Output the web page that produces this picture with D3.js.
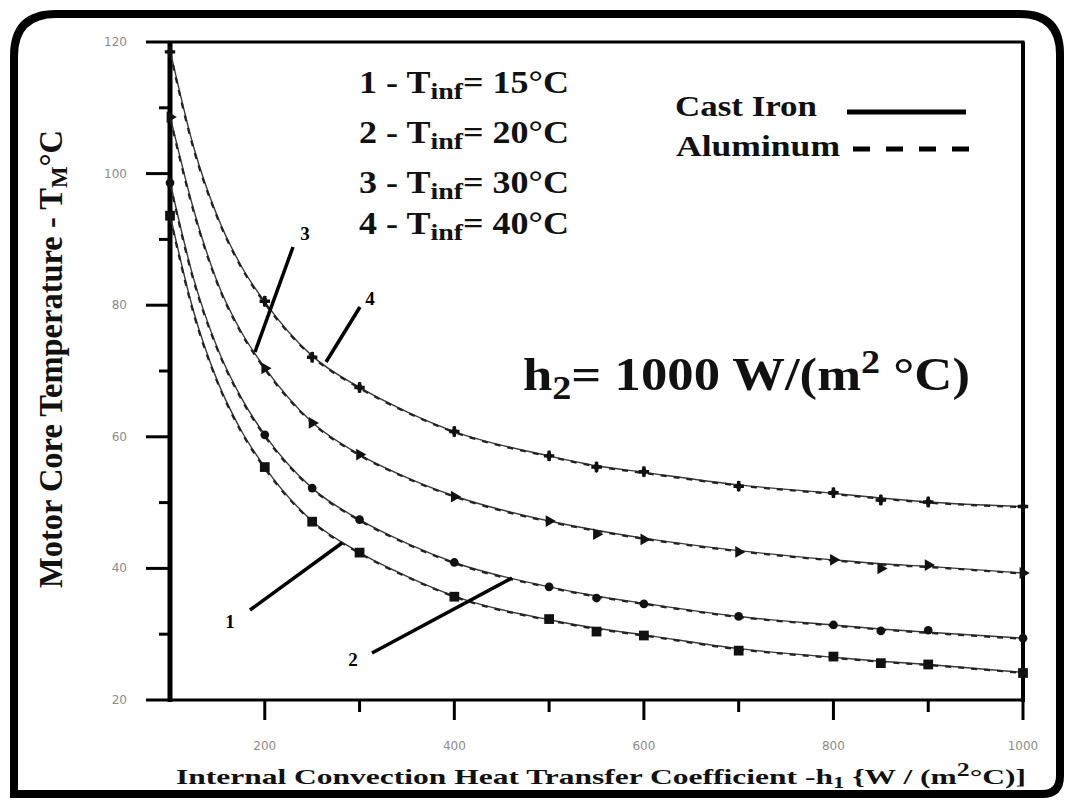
<!DOCTYPE html>
<html><head><meta charset="utf-8">
<script src="https://cdn.jsdelivr.net/npm/d3@7"></script>
<style>body{margin:0;background:#fff}svg{display:block}</style></head>
<body>
<svg id="chart" width="1072" height="804"></svg>
<script>
// ---------- data ----------
const hValues = [100, 125, 150, 175, 200, 250, 300, 350, 400, 500, 550, 600, 700, 800, 850, 900, 1000];
const castIron_T15 = [93.8, 79, 68.5, 61, 55.4, 47.2, 42.4, 38.8, 35.8, 32.2, 30.9, 29.9, 27.8, 26.5, 25.9, 25.4, 24.2];
const castIron_T20 = [98.8, 84, 73.5, 66, 60.3, 52.2, 47.4, 43.8, 40.9, 37.2, 35.8, 34.7, 32.7, 31.4, 30.8, 30.3, 29.4];
const castIron_T30 = [108.8, 94.5, 83.5, 76, 70.5, 62.2, 57.3, 53.8, 51.0, 47.2, 45.8, 44.6, 42.7, 41.3, 40.7, 40.3, 39.3];
const castIron_T40 = [118.8, 104, 93.5, 86, 80.5, 72.3, 67.5, 63.8, 60.8, 57.1, 55.6, 54.6, 52.7, 51.4, 50.7, 50.1, 49.4];
const aluminum_T15 = [93.5, 78.7, 68.3, 60.8, 55.2, 47.1, 42.3, 38.7, 35.7, 32.1, 30.8, 29.8, 27.7, 26.4, 25.8, 25.3, 24.1];
const aluminum_T20 = [98.5, 83.7, 73.3, 65.8, 60.1, 52.1, 47.3, 43.7, 40.8, 37.1, 35.7, 34.6, 32.6, 31.3, 30.7, 30.2, 29.3];
const aluminum_T30 = [108.5, 94.2, 83.3, 75.8, 70.3, 62.1, 57.2, 53.7, 50.9, 47.1, 45.7, 44.5, 42.6, 41.2, 40.6, 40.2, 39.2];
const aluminum_T40 = [118.5, 103.7, 93.3, 85.8, 80.3, 72.2, 67.4, 63.7, 60.7, 57.0, 55.5, 54.5, 52.6, 51.3, 50.6, 50.0, 49.3];

const markerH = [100, 200, 250, 300, 400, 500, 550, 600, 700, 800, 850, 900, 1000];
const marker_T15 = [93.6, 55.4, 47.1, 42.4, 35.7, 32.3, 30.4, 29.8, 27.5, 26.6, 25.6, 25.4, 24.1];
const marker_T20 = [98.6, 60.3, 52.2, 47.4, 40.9, 37.2, 35.5, 34.6, 32.7, 31.4, 30.5, 30.6, 29.4];
const marker_T30 = [108.6, 70.4, 62.1, 57.3, 50.9, 47.2, 45.2, 44.4, 42.5, 41.3, 40.0, 40.5, 39.3];
const marker_T40 = [118.5, 80.6, 72.1, 67.5, 60.8, 57.1, 55.4, 54.7, 52.5, 51.5, 50.4, 50.1, 49.4];

const curveNumbers = ["1", "2", "3", "4"];
const tinfLabels = ["15", "20", "30", "40"];
const markerShapes = ["square", "circle", "triangle", "star"];

const xMajorTicks = [200, 400, 600, 800, 1000];
const xMinorTicks = [300, 500, 700, 900];
const yMajorTicks = [20, 40, 60, 80, 100, 120];
const yMinorTicks = [30, 50, 70, 90, 110];

// ---------- setup ----------
const svg = d3.select("#chart");
const serif = "'Liberation Serif','Times New Roman',serif";
const L = 170, R = 1023, T = 42, B = 700;
const x = d3.scaleLinear().domain([100, 1000]).range([L, R]);
const y = d3.scaleLinear().domain([20, 120]).range([B, T]);

svg.append("rect").attr("width", 1072).attr("height", 804).attr("fill", "#fff");

// outer rounded frame
const fr = {x0: 14, y0: 14, x1: 1060, y1: 794};
svg.append("path")
  .attr("d", `M${fr.x0},${fr.y1} L${fr.x0},${fr.y0 + 42} Q${fr.x0},${fr.y0} ${fr.x0 + 42},${fr.y0} L${fr.x1 - 40},${fr.y0} Q${fr.x1},${fr.y0} ${fr.x1},${fr.y0 + 40} L${fr.x1},${fr.y1 - 18} Q${fr.x1},${fr.y1} ${fr.x1 - 18},${fr.y1} Z`)
  .attr("fill", "none").attr("stroke", "#000").attr("stroke-width", 8);

// plot frame
svg.append("rect").attr("x", L).attr("y", T).attr("width", R - L).attr("height", B - T)
  .attr("fill", "none").attr("stroke", "#000").attr("stroke-width", 3);
svg.append("line").attr("x1", L).attr("x2", L).attr("y1", T).attr("y2", B + 2).attr("stroke", "#000").attr("stroke-width", 5);
svg.append("line").attr("x1", R).attr("x2", R).attr("y1", T).attr("y2", B + 2).attr("stroke", "#000").attr("stroke-width", 4);

// curves
const castSeries = [castIron_T15, castIron_T20, castIron_T30, castIron_T40];
const aluSeries = [aluminum_T15, aluminum_T20, aluminum_T30, aluminum_T40];
const markerSeries = [marker_T15, marker_T20, marker_T30, marker_T40];
const line = d3.line().x(d => x(d[0])).y(d => y(d[1])).curve(d3.curveMonotoneX);
const plot = svg.append("g");
castSeries.forEach((s, i) => {
  plot.append("path").attr("d", line(hValues.map((h, j) => [h, s[j]])))
    .attr("fill", "none").attr("stroke", "#3a3a3a").attr("stroke-width", 1.4);
});
aluSeries.forEach((s, i) => {
  plot.append("path").attr("d", line(hValues.map((h, j) => [h, s[j]])))
    .attr("fill", "none").attr("stroke", "#222").attr("stroke-width", 2.2).attr("stroke-dasharray", "6,7");
});
const symbolFor = {
  square: d3.symbol().type(d3.symbolSquare).size(95),
  circle: d3.symbol().type(d3.symbolCircle).size(60),
  triangle: d3.symbol().type(d3.symbolTriangle).size(60),
  star: d3.symbol().type(d3.symbolCross).size(60)
};
markerSeries.forEach((s, i) => {
  const shape = markerShapes[i];
  plot.selectAll(null).data(markerH.map((h, j) => [h, s[j]])).enter().append("path")
    .attr("d", symbolFor[shape]())
    .attr("transform", d => `translate(${x(d[0])},${y(d[1])})` + (shape === "triangle" ? " rotate(90)" : ""))
    .attr("fill", "#111");
  if (shape === "star") {
    plot.selectAll(null).data(markerH.map((h, j) => [h, s[j]])).enter().append("path")
      .attr("d", d3.symbol().type(d3.symbolDiamond).size(40)())
      .attr("transform", d => `translate(${x(d[0])},${y(d[1])})`)
      .attr("fill", "#111");
  }
});

// axes ticks (drawn last, from the scales)
const tickCol = "#8c8c8c";
const axes = svg.append("g").attr("class", "ticks");
xMajorTicks.forEach(d => {
  axes.append("line").attr("x1", x(d)).attr("x2", x(d)).attr("y1", B + 1).attr("y2", B + 20)
    .attr("stroke", "#000").attr("stroke-width", 3);
  axes.append("text").attr("x", x(d)).attr("y", B + 50).attr("text-anchor", "middle")
    .attr("fill", tickCol).attr("font-family", "'DejaVu Sans',sans-serif").attr("font-size", 12).text(d);
});
xMinorTicks.forEach(d => {
  axes.append("line").attr("x1", x(d)).attr("x2", x(d)).attr("y1", B + 1).attr("y2", B + 12)
    .attr("stroke", "#000").attr("stroke-width", 3);
});
yMajorTicks.forEach(d => {
  axes.append("line").attr("x1", L - 24).attr("x2", L - 1).attr("y1", y(d)).attr("y2", y(d))
    .attr("stroke", "#000").attr("stroke-width", 3);
  axes.append("text").attr("x", L - 43).attr("y", y(d) + 4).attr("text-anchor", "end")
    .attr("fill", tickCol).attr("font-family", "'DejaVu Sans',sans-serif").attr("font-size", 12).text(d);
});
yMinorTicks.forEach(d => {
  axes.append("line").attr("x1", L - 11).attr("x2", L - 1).attr("y1", y(d)).attr("y2", y(d))
    .attr("stroke", "#000").attr("stroke-width", 3);
});

// curve number annotations
const annoLines = [
  {n: "1", x1: 250, y1: 610, x2: 342, y2: 543, tx: 230, ty: 628},
  {n: "2", x1: 372, y1: 653, x2: 512, y2: 578, tx: 353, ty: 666},
  {n: "3", x1: 293, y1: 247, x2: 255, y2: 352, tx: 305, ty: 240},
  {n: "4", x1: 360, y1: 307, x2: 326, y2: 362, tx: 370, ty: 305}
];
annoLines.forEach(a => {
  svg.append("line").attr("x1", a.x1).attr("y1", a.y1).attr("x2", a.x2).attr("y2", a.y2)
    .attr("stroke", "#000").attr("stroke-width", 3.5);
  svg.append("text").attr("x", a.tx).attr("y", a.ty).attr("text-anchor", "middle")
    .attr("font-family", serif).attr("font-weight", "bold").attr("font-size", 19).text(a.n);
});

// legend of T_inf
const legY = [93, 143, 193, 234];
curveNumbers.forEach((n, i) => {
  const t = svg.append("text").attr("x", 359).attr("y", legY[i])
    .attr("font-family", serif).attr("font-weight", "bold").attr("font-size", 31).attr("fill", "#111")
    .attr("textLength", 210).attr("lengthAdjust", "spacingAndGlyphs");
  t.append("tspan").text(n + " - T");
  t.append("tspan").attr("font-size", 24).attr("dy", 6).text("inf");
  t.append("tspan").attr("dy", -6).text("= " + tinfLabels[i] + "°C");
});

// material legend
svg.append("text").attr("x", 675).attr("y", 116).attr("font-family", serif).attr("font-weight", "bold")
  .attr("font-size", 30).attr("textLength", 142).attr("lengthAdjust", "spacingAndGlyphs").attr("fill", "#111").text("Cast Iron");
svg.append("line").attr("x1", 847).attr("x2", 966).attr("y1", 112).attr("y2", 112).attr("stroke", "#000").attr("stroke-width", 5);
svg.append("text").attr("x", 676).attr("y", 156).attr("font-family", serif).attr("font-weight", "bold")
  .attr("font-size", 30).attr("textLength", 164).attr("lengthAdjust", "spacingAndGlyphs").attr("fill", "#111").text("Aluminum");
svg.append("line").attr("x1", 853).attr("x2", 970).attr("y1", 149).attr("y2", 149).attr("stroke", "#000").attr("stroke-width", 5).attr("stroke-dasharray", "17,16");

// h2 annotation
const h2 = svg.append("text").attr("x", 523).attr("y", 390).attr("font-family", serif).attr("font-weight", "bold")
  .attr("font-size", 47).attr("fill", "#111").attr("textLength", 447).attr("lengthAdjust", "spacingAndGlyphs");
h2.append("tspan").text("h");
h2.append("tspan").attr("font-size", 34).attr("dy", 9).text("2");
h2.append("tspan").attr("dy", -9).text("= 1000 W/(m");
h2.append("tspan").attr("font-size", 34).attr("dy", -17).text("2");
h2.append("tspan").attr("dy", 17).text(" °C)");

// axis titles
const xt = svg.append("text").attr("x", 176).attr("y", 784).attr("font-family", serif).attr("font-weight", "bold")
  .attr("font-size", 22).attr("fill", "#111").attr("textLength", 850).attr("lengthAdjust", "spacingAndGlyphs");
xt.append("tspan").text("Internal Convection Heat Transfer Coefficient -h");
xt.append("tspan").attr("font-size", 16).attr("dy", 4).text("1");
xt.append("tspan").attr("dy", -4).text(" {W / (m");
xt.append("tspan").attr("font-size", 18).attr("dy", -8).text("2");
xt.append("tspan").attr("dy", 8).text("°C)]");

const yt = svg.append("text").attr("transform", "translate(62,588) rotate(-90)")
  .attr("font-family", serif).attr("font-weight", "bold").attr("font-size", 34).attr("fill", "#111")
  .attr("textLength", 458).attr("lengthAdjust", "spacingAndGlyphs");
yt.append("tspan").text("Motor Core Temperature - T");
yt.append("tspan").attr("font-size", 24).attr("dy", 5).text("M");
yt.append("tspan").attr("dy", -5).text("°C");
</script>
</body></html>
